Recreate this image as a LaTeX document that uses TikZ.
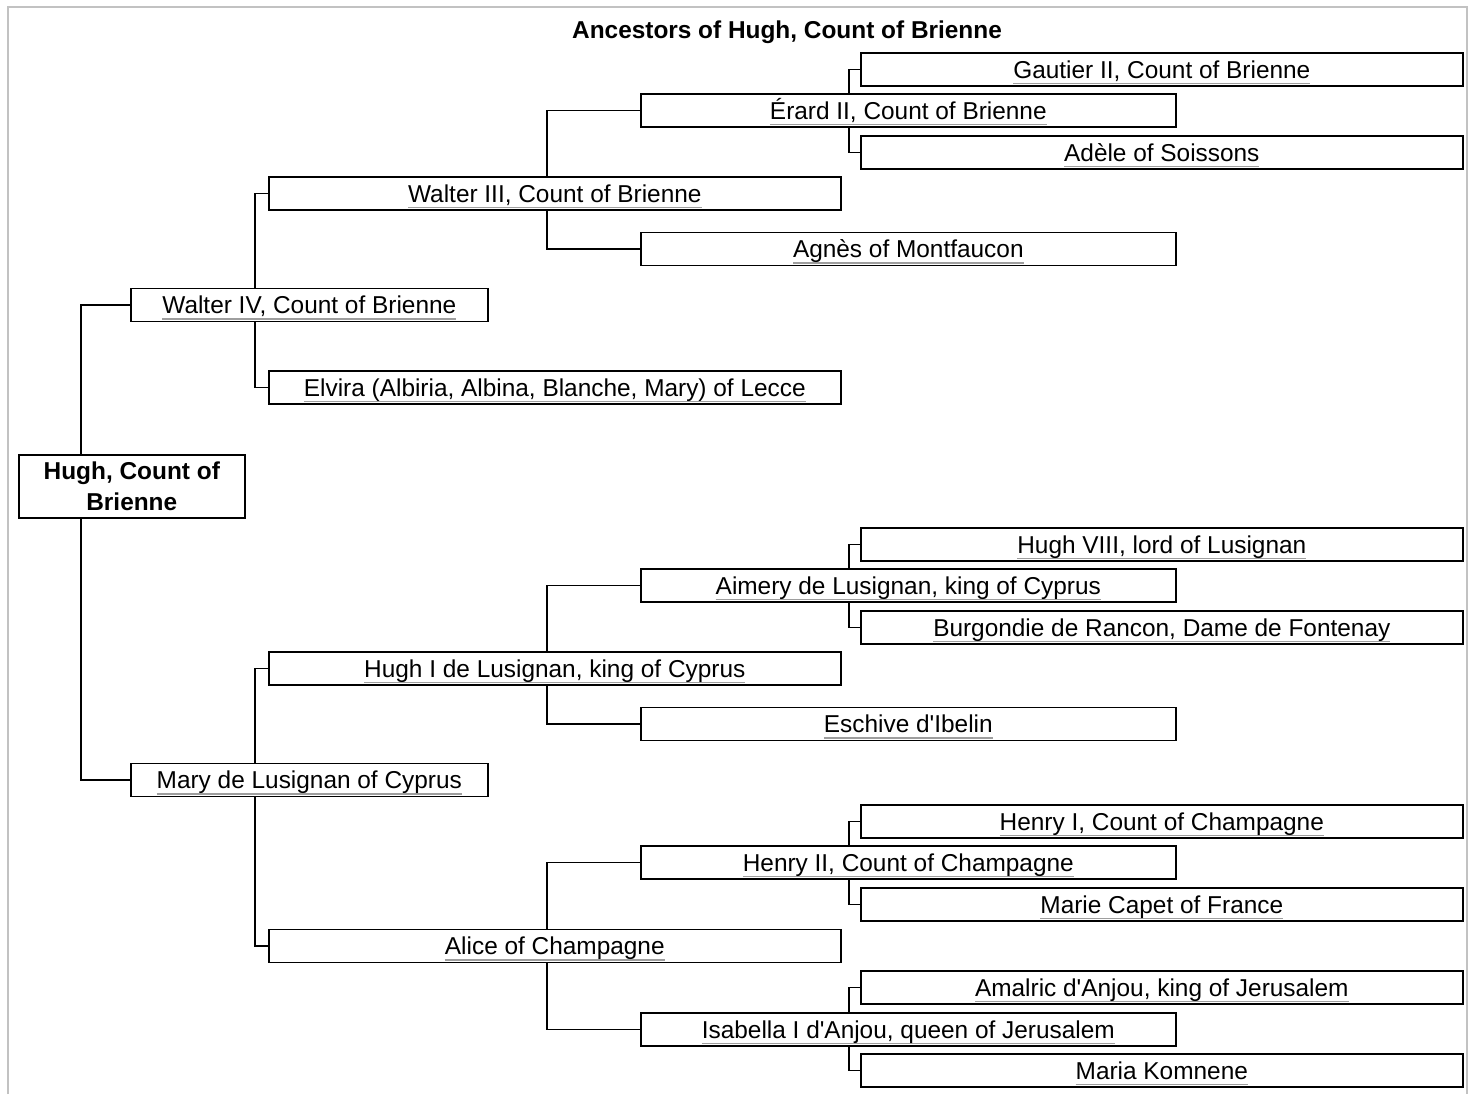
\documentclass[tikz,border=0pt]{standalone}
\usepackage{fontspec}
\setmainfont{Liberation Sans}
\usetikzlibrary{backgrounds}
\usepackage{xcolor}

\definecolor{linkgray}{gray}{0.62}
\definecolor{framegray}{gray}{0.76}

\newlength\lnkwd
\newcommand\lnk[1]{\settowidth\lnkwd{#1}\rlap{\textcolor{linkgray}{\rule[-3pt]{\lnkwd}{0.65pt}}}#1}

\tikzset{
  box/.style={draw=black, line width=0.8pt, fill=white, anchor=west, inner sep=0pt},
  person/.style={box, minimum height=16.5pt, text height=8.7pt, text depth=0pt, font=\fontsize{12.2}{14}\selectfont},
  gone/.style={person, minimum width=178.5pt},
  gtwo/.style={person, minimum width=286pt},
  gthree/.style={person, minimum width=267.5pt},
  gfour/.style={person, minimum width=301pt},
  elbow/.style={draw=black, line width=0.85pt}
}

\begin{document}
\begin{tikzpicture}[x=0.5pt, y=-0.5pt]
\useasboundingbox (0,0) rectangle (1475,1094);

% title
\node[font=\bfseries\fontsize{12.2}{14}\selectfont, text height=8.7pt, text depth=0pt, inner sep=0pt] (title) at (787,30) {Ancestors of Hugh, Count of Brienne};

% root
\node[box, minimum width=113pt, minimum height=31.5pt, align=center, font=\bfseries\fontsize{12.2}{15.5}\selectfont] (hugh) at (18,486.5) {Hugh, Count of\\Brienne};

% parents
\node[gone] (walterIV) at (130,305) {\lnk{Walter IV, Count of Brienne}};
\node[gone] (mary) at (130,780) {\lnk{Mary de Lusignan of Cyprus}};

% grandparents
\node[gtwo] (walterIII) at (268,193.5) {\lnk{Walter III, Count of Brienne}};
\node[gtwo] (elvira) at (268,387.5) {\lnk{Elvira (Albiria, Albina, Blanche, Mary) of Lecce}};
\node[gtwo] (hughI) at (268,668.5) {\lnk{Hugh I de Lusignan, king of Cyprus}};
\node[gtwo] (alice) at (268,946) {\lnk{Alice of Champagne}};

% great-grandparents
\node[gthree] (erard) at (640,110.5) {\lnk{Érard II, Count of Brienne}};
\node[gthree] (agnes) at (640,249) {\lnk{Agnès of Montfaucon}};
\node[gthree] (aimery) at (640,585.5) {\lnk{Aimery de Lusignan, king of Cyprus}};
\node[gthree] (eschive) at (640,724) {\lnk{Eschive d\textquotesingle Ibelin}};
\node[gthree] (henryII) at (640,862.5) {\lnk{Henry II, Count of Champagne}};
\node[gthree] (isabella) at (640,1029.5) {\lnk{Isabella I d\textquotesingle Anjou, queen of Jerusalem}};

% great-great-grandparents
\node[gfour] (gautier) at (860,69.5) {\lnk{Gautier II, Count of Brienne}};
\node[gfour] (adele) at (860,152.5) {\lnk{Adèle of Soissons}};
\node[gfour] (hughVIII) at (860,544.5) {\lnk{Hugh VIII, lord of Lusignan}};
\node[gfour] (burgondie) at (860,627.5) {\lnk{Burgondie de Rancon, Dame de Fontenay}};
\node[gfour] (henryI) at (860,821.5) {\lnk{Henry I, Count of Champagne}};
\node[gfour] (marie) at (860,904.5) {\lnk{Marie Capet of France}};
\node[gfour] (amalric) at (860,987.5) {\lnk{Amalric d\textquotesingle Anjou, king of Jerusalem}};
\node[gfour] (maria) at (860,1070.5) {\lnk{Maria Komnene}};

\begin{scope}[on background layer]
% frame
\draw[framegray, line width=0.8pt] (8,1094) -- (8,7) -- (1467,7) -- (1467,1094);

% connectors
\draw[elbow] (walterIV.west) -- ++(-49,0) |- (mary.west);

\draw[elbow] (walterIII.west) -- ++(-13,0) |- (elvira.west);
\draw[elbow] (hughI.west) -- ++(-13,0) |- (alice.west);

\draw[elbow] (erard.west) -- ++(-93,0) |- (agnes.west);
\draw[elbow] (aimery.west) -- ++(-93,0) |- (eschive.west);
\draw[elbow] (henryII.west) -- ++(-93,0) |- (isabella.west);

\draw[elbow] (gautier.west) -- ++(-11,0) |- (adele.west);
\draw[elbow] (hughVIII.west) -- ++(-11,0) |- (burgondie.west);
\draw[elbow] (henryI.west) -- ++(-11,0) |- (marie.west);
\draw[elbow] (amalric.west) -- ++(-11,0) |- (maria.west);
\end{scope}
\end{tikzpicture}
\end{document}
